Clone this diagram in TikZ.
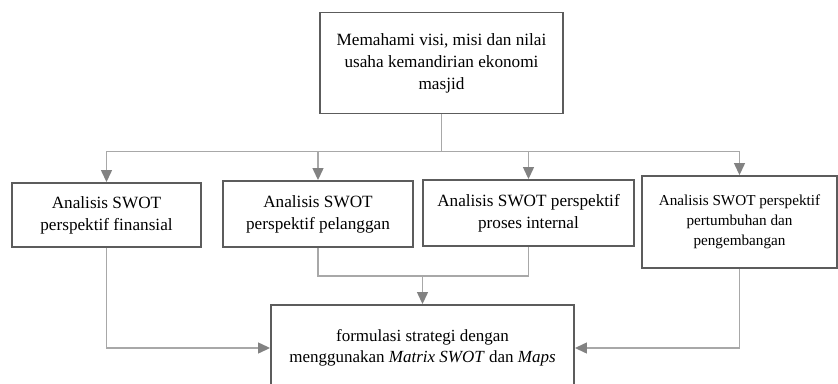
\documentclass[tikz,border=0pt]{standalone}
\usepackage{fontspec}
\setmainfont{Liberation Serif}
\usetikzlibrary{arrows.meta,positioning}
\definecolor{boxline}{HTML}{5C5C5C}
\definecolor{wire}{HTML}{A8A8A8}
\definecolor{tip}{HTML}{828282}
\begin{document}
\begin{tikzpicture}[x=1pt,y=-1pt,
  box/.style={rectangle,draw=boxline,line width=1.9pt,align=center,inner sep=0pt,font=\fontsize{17.2}{22}\selectfont},
  wire/.style={draw=wire,line width=1.3pt},
  arr/.style={wire,-{Triangle[length=12pt,width=11pt,color=tip]}}]
\useasboundingbox (0,0) rectangle (838,383);
% boxes
\node[box,minimum width=243pt,minimum height=101pt] (visi) at (441.5,63) {Memahami visi, misi dan nilai\\usaha kemandirian ekonomi\\masjid};
\node[box,minimum width=189pt,minimum height=64pt] (fin) at (106.5,215) {Analisis SWOT\\perspektif finansial};
\node[box,minimum width=190pt,minimum height=66pt] (pel) at (318,214) {Analisis SWOT\\perspektif pelanggan};
\node[box,minimum width=211pt,minimum height=66pt] (pro) at (528.5,213) {Analisis SWOT perspektif\\proses internal};
\node[box,minimum width=195pt,minimum height=92pt,font=\fontsize{15.2}{20}\selectfont] (grow) at (739.5,222) {Analisis SWOT perspektif\\pertumbuhan dan\\pengembangan};
\node[box,minimum width=303pt,minimum height=86pt,font=\fontsize{17}{20.5}\selectfont] (goal) at (422.5,348) {formulasi strategi dengan\\menggunakan \textit{Matrix SWOT} dan \textit{Maps}};
% connectors
\draw[wire] (visi.south) -- ++(0,37) coordinate (hub);
\foreach \b in {fin,pel,pro,grow}
    \draw[arr] (hub) -| (\b.north);
\path (goal.north) ++(0,-28) coordinate (join);
\draw[wire] (pel.south) |- (join) -| (pro.south);
\draw[arr] (join) -- (goal.north);
\draw[arr] (fin.south) |- (goal.west);
\draw[arr] (grow.south) |- (goal.east);
\end{tikzpicture}
\end{document}
